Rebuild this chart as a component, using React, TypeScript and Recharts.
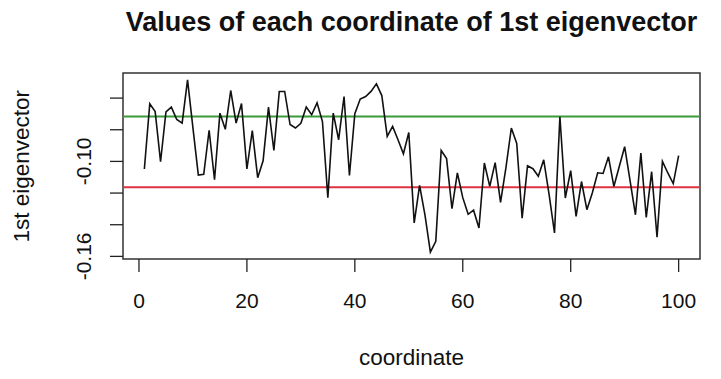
import React from 'react';
import { LineChart, Line, XAxis, YAxis, ReferenceLine, ReferenceArea } from 'recharts';

// coordinate index 1..100
const coordinates = Array.from({ length: 100 }, (_, i) => i + 1);

// values
const eigenvector = [
  -0.1048, -0.0636, -0.0685, -0.1002, -0.0687, -0.0657, -0.0735, -0.0758, -0.0485, -0.0788,
  -0.1086, -0.1082, -0.0803, -0.1116, -0.0695, -0.0797, -0.0552, -0.0758, -0.0634, -0.1048,
  -0.0805, -0.1103, -0.0996, -0.0657, -0.0931, -0.0558, -0.0558, -0.0767, -0.0789, -0.0759,
  -0.0657, -0.0705, -0.063, -0.0748, -0.1229, -0.0695, -0.0863, -0.059, -0.1089, -0.0699,
  -0.0606, -0.059, -0.0558, -0.051, -0.0584, -0.0842, -0.0779, -0.0863, -0.0952, -0.0817,
  -0.1389, -0.1152, -0.134, -0.1573, -0.1505, -0.0931, -0.0982, -0.1299, -0.1073, -0.1229,
  -0.1334, -0.1308, -0.1421, -0.101, -0.1158, -0.1008, -0.1259, -0.104, -0.0789, -0.0887,
  -0.1358, -0.1027, -0.1046, -0.1094, -0.099, -0.121, -0.1452, -0.0718, -0.1231, -0.1058,
  -0.1347, -0.1127, -0.1305, -0.12, -0.1072, -0.1076, -0.0971, -0.1158, -0.1032, -0.0907,
  -0.1122, -0.1337, -0.0947, -0.1354, -0.1065, -0.1479, -0.1, -0.1073, -0.114, -0.0964,
];

const xTicks = [0, 20, 40, 60, 80, 100];
const yTicks = [-0.16, -0.14, -0.12, -0.1, -0.08, -0.06];
const yTickLabels = ['-0.16', '', '', '-0.10', '', ''];

const upperLevel = -0.0716;
const lowerLevel = -0.1164;

const xDomain = [-2.96, 103.96];
const yDomain = [-0.16165, -0.04415];

const data = coordinates.map((c, i) => ({ coordinate: c, value: eigenvector[i] }));

const FONT = '"Liberation Sans", Arial, Helvetica, sans-serif';

function XTick(props: any) {
  const { x, y, payload } = props;
  return (
    <text x={x} y={y + 33.5} textAnchor="middle" fontSize={21} fontFamily={FONT} fill="#111">
      {payload.value}
    </text>
  );
}

function YTick(props: any) {
  const { x, y, index } = props;
  const label = yTickLabels[index];
  if (!label) return null;
  return (
    <text
      transform={`translate(${x - 17.5}, ${y}) rotate(-90)`}
      textAnchor="middle"
      fontSize={21}
      fontFamily={FONT}
      fill="#111"
    >
      {label}
    </text>
  );
}

export default function App() {
  return (
    <div style={{ position: 'absolute', left: 0, top: 0, width: 721, height: 379, background: '#fff', fontFamily: FONT }}>
      <div
        style={{
          position: 'absolute', left: 111.5, top: 8.6, width: 600, textAlign: 'center',
          fontSize: 27, lineHeight: '27px', fontWeight: 'bold', color: '#111', whiteSpace: 'nowrap',
        }}
      >
        Values of each coordinate of 1st eigenvector
      </div>
      <div
        style={{
          position: 'absolute', left: 261.5, top: 347, width: 300, textAlign: 'center',
          fontSize: 22.5, lineHeight: '22.5px', color: '#111',
        }}
      >
        coordinate
      </div>
      <div
        style={{
          position: 'absolute', left: 22 - 150, top: 166 - 11.25, width: 300, textAlign: 'center',
          fontSize: 22.5, lineHeight: '22.5px', color: '#111', transform: 'rotate(-90deg)',
        }}
      >
        1st eigenvector
      </div>
      <LineChart width={721} height={379} data={data} margin={{ top: 73, right: 21, bottom: 0, left: 0 }}>
        <XAxis
          dataKey="coordinate"
          type="number"
          domain={xDomain}
          allowDataOverflow
          ticks={xTicks}
          height={120}
          axisLine={false}
          tickLine={{ stroke: '#222', strokeWidth: 1.3 }}
          tickSize={13}
          tick={<XTick />}
          interval={0}
        />
        <YAxis
          type="number"
          domain={yDomain}
          allowDataOverflow
          ticks={yTicks}
          width={123}
          axisLine={false}
          tickLine={{ stroke: '#222', strokeWidth: 1.3 }}
          tickSize={13}
          tick={<YTick />}
          interval={0}
        />
        <ReferenceArea
          x1={xDomain[0]}
          x2={xDomain[1]}
          y1={yDomain[0]}
          y2={yDomain[1]}
          fill="none"
          stroke="#333"
          strokeWidth={1.5}
          ifOverflow="visible"
        />
        <ReferenceLine y={upperLevel} stroke="#3b9a3b" strokeWidth={2} />
        <ReferenceLine y={lowerLevel} stroke="#de3340" strokeWidth={2} />
        <Line
          type="linear"
          dataKey="value"
          stroke="#111"
          strokeWidth={1.6}
          dot={false}
          isAnimationActive={false}
        />
      </LineChart>
    </div>
  );
}
